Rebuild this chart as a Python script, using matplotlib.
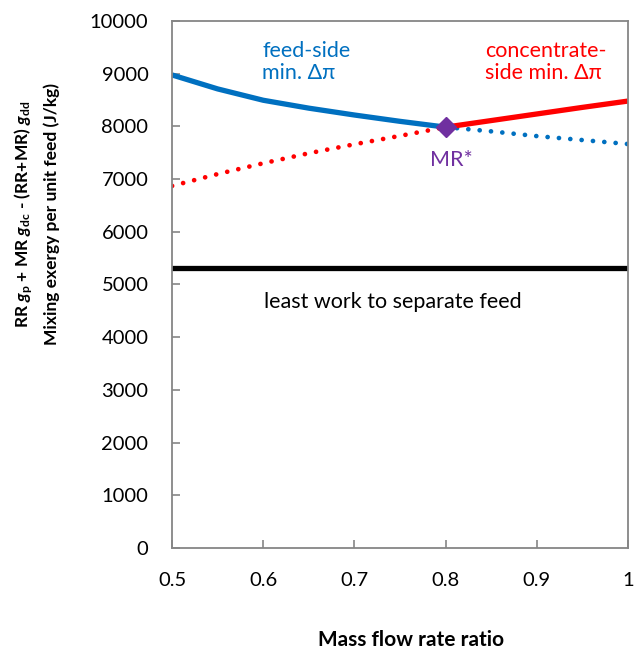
import numpy as np
import matplotlib.pyplot as plt

plt.rcParams["font.family"] = ["Lato", "DejaVu Sans"]
plt.rcParams["mathtext.fontset"] = "custom"
plt.rcParams["mathtext.it"] = "Lato:italic:bold"
plt.rcParams["mathtext.rm"] = "Lato:bold"

# feed-side minimum osmotic pressure difference
mr_feed = [0.5, 0.55, 0.6, 0.65, 0.7, 0.75, 0.8, 0.85, 0.9, 0.95, 1.0]
ex_feed = [8975, 8710, 8495, 8345, 8215, 8095, 7985, 7905, 7815, 7740, 7665]
# concentrate-side minimum osmotic pressure difference
mr_conc = [0.5, 0.55, 0.6, 0.65, 0.7, 0.75, 0.8, 0.85, 0.9, 0.95, 1.0]
ex_conc = [6870, 7095, 7300, 7490, 7660, 7820, 7985, 8110, 8235, 8360, 8480]
mr_star = 0.8
ex_star = 7985
least_work = 5320

BLUE = "#0070C0"
RED = "#FF0000"
PURPLE = "#7030A0"
GRAY = "#868686"

mr_feed = np.array(mr_feed)
ex_feed = np.array(ex_feed)
mr_conc = np.array(mr_conc)
ex_conc = np.array(ex_conc)

fig = plt.figure(figsize=(6.35, 6.54), dpi=100)
ax = fig.add_axes([0.271, 0.162, 0.718, 0.806])

dot = dict(linestyle=(0, (0.01, 2.4)), dash_capstyle="round", lw=3.4)
left_f = mr_feed <= mr_star
left_c = mr_conc <= mr_star
ax.plot(mr_conc[left_c], ex_conc[left_c], color=RED, **dot)
ax.plot(mr_feed[mr_feed >= mr_star], ex_feed[mr_feed >= mr_star], color=BLUE, **dot)
ax.plot(mr_feed[left_f], ex_feed[left_f], color=BLUE, lw=3.8,
        solid_capstyle="butt", solid_joinstyle="round")
ax.plot(mr_conc[mr_conc >= mr_star], ex_conc[mr_conc >= mr_star], color=RED, lw=3.8,
        solid_capstyle="butt", solid_joinstyle="round")
ax.axhline(least_work, color="black", lw=3.8)
ax.plot([mr_star], [ex_star], marker="D", ms=10, color=PURPLE, zorder=5)

ax.text(0.5987, 9220, "feed-side\nmin. Δπ", color=BLUE, fontsize=15.5,
        va="center", ha="left", linespacing=1.1)
ax.text(0.843, 9220, "concentrate-\nside min. Δπ", color=RED, fontsize=15.5,
        va="center", ha="left", linespacing=1.1)
ax.text(0.806, 7362, "MR*", color=PURPLE, fontsize=15.5, ha="center", va="center")
ax.text(0.742, 4668, "least work to separate feed", color="black", fontsize=15.5,
        ha="center", va="center")

ax.set_xlim(0.5, 1.0)
ax.set_ylim(0, 10000)
ax.set_xticks([0.5, 0.6, 0.7, 0.8, 0.9, 1.0])
ax.set_xticklabels(["0.5", "0.6", "0.7", "0.8", "0.9", "1"])
ax.set_yticks(np.arange(0, 10001, 1000))
ax.tick_params(direction="in", length=6, width=1.2, color=GRAY, labelsize=14.5)
ax.tick_params(axis="x", pad=17)
ax.tick_params(axis="y", pad=17)
for s in ax.spines.values():
    s.set_color(GRAY)
    s.set_linewidth(1.3)

fig.text(0.648, 0.021, "Mass flow rate ratio", ha="center", va="center",
         fontsize=15, fontweight="bold")
fig.text(0.038, 0.673, r"RR $g_\mathrm{p}$ + MR $g_\mathrm{dc}$ - (RR+MR) $g_\mathrm{dd}$",
         rotation=90, ha="center", va="center", fontsize=12.5, fontweight="bold")
fig.text(0.082, 0.673, "Mixing exergy per unit feed (J/kg)",
         rotation=90, ha="center", va="center", fontsize=12.5, fontweight="bold")

fig.savefig("out.png", dpi=100)
